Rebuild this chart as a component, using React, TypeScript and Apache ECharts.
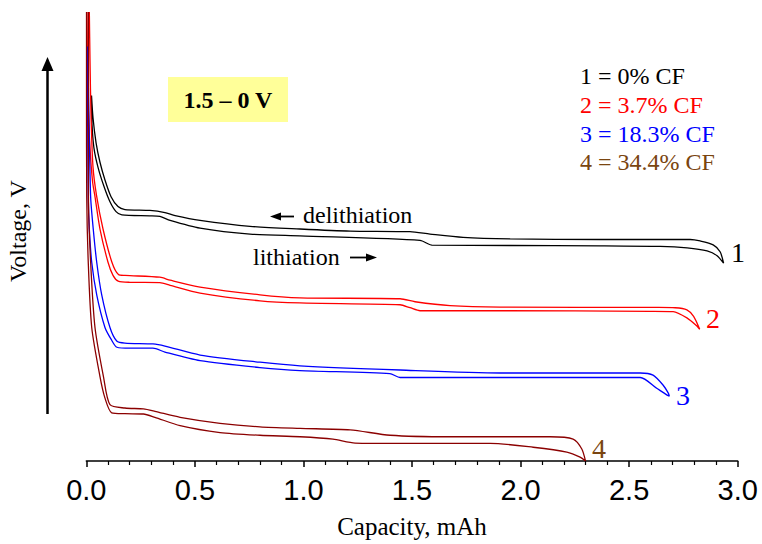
import React, { useEffect, useRef } from "react";
import * as echarts from "echarts";

// Galvanostatic charge/discharge profiles, capacity (mAh) vs. offset voltage (V).
// Each curve: lithiation branch (start -> end), then delithiation branch (end -> start).
const curve1Lith: [number, number][] = [
  [0.024, 1.221], [0.026, 1.129], [0.035, 1.047], [0.054, 0.981], [0.082, 0.916],
  [0.109, 0.866], [0.137, 0.833], [0.164, 0.822], [0.293, 0.819], [0.339, 0.817],
  [0.386, 0.804], [0.524, 0.778], [0.754, 0.758], [0.984, 0.752], [1.537, 0.737],
  [1.592, 0.721], [1.952, 0.72], [2.366, 0.719], [2.643, 0.717], [2.767, 0.712],
  [2.859, 0.702], [2.905, 0.686], [2.935, 0.661],
];
const curve1Delith: [number, number][] = [
  [2.919, 0.699], [2.887, 0.722], [2.827, 0.735], [2.781, 0.74], [2.366, 0.74],
  [1.952, 0.742], [1.735, 0.747], [1.583, 0.758], [1.491, 0.766], [1.215, 0.768],
  [0.984, 0.775], [0.754, 0.784], [0.524, 0.804], [0.409, 0.82], [0.362, 0.83],
  [0.293, 0.837], [0.178, 0.84], [0.146, 0.85], [0.114, 0.883], [0.086, 0.939],
  [0.063, 0.998], [0.045, 1.063], [0.031, 1.146], [0.024, 1.221],
];

const curve2Lith: [number, number][] = [
  [0.003, 1.5], [0.008, 1.211], [0.017, 1.047], [0.029, 0.932], [0.04, 0.883],
  [0.063, 0.775], [0.1, 0.664], [0.123, 0.62], [0.147, 0.601], [0.201, 0.597],
  [0.339, 0.596], [0.386, 0.587], [0.524, 0.561], [0.8, 0.535], [0.984, 0.528],
  [1.445, 0.522], [1.491, 0.512], [1.537, 0.502], [1.906, 0.502], [2.597, 0.5],
  [2.703, 0.499], [2.766, 0.478], [2.812, 0.451], [2.825, 0.44],
];
const curve2Delith: [number, number][] = [
  [2.797, 0.483], [2.766, 0.505], [2.712, 0.512], [2.627, 0.513], [1.906, 0.514],
  [1.675, 0.519], [1.514, 0.532], [1.445, 0.542], [0.984, 0.545], [0.8, 0.555],
  [0.524, 0.581], [0.386, 0.604], [0.339, 0.614], [0.178, 0.62], [0.148, 0.623],
  [0.118, 0.664], [0.077, 0.775], [0.048, 0.883], [0.031, 0.981], [0.022, 1.145],
  [0.017, 1.342], [0.014, 1.5],
];

const curve3Lith: [number, number][] = [
  [0.003, 1.385], [0.006, 1.159], [0.009, 0.883], [0.014, 0.775], [0.025, 0.664],
  [0.048, 0.555], [0.086, 0.446], [0.114, 0.407], [0.141, 0.38], [0.201, 0.377],
  [0.307, 0.377], [0.362, 0.364], [0.524, 0.335], [0.8, 0.312], [0.984, 0.302],
  [1.398, 0.292], [1.445, 0.279], [1.906, 0.279], [2.551, 0.279], [2.627, 0.243],
  [2.673, 0.221], [2.685, 0.217],
];
const curve3Delith: [number, number][] = [
  [2.681, 0.226], [2.656, 0.254], [2.61, 0.287], [2.551, 0.294], [1.906, 0.294],
  [1.445, 0.304], [0.984, 0.318], [0.8, 0.33], [0.524, 0.354], [0.362, 0.384],
  [0.307, 0.391], [0.178, 0.394], [0.14, 0.401], [0.109, 0.446], [0.071, 0.555],
  [0.048, 0.664], [0.032, 0.775], [0.02, 0.883], [0.012, 1.159], [0.006, 1.385],
];

const curve4Lith: [number, number][] = [
  [0.001, 1.5], [0.001, 1.211], [0.002, 0.883], [0.009, 0.664], [0.025, 0.446],
  [0.063, 0.282], [0.086, 0.21], [0.117, 0.161], [0.178, 0.158], [0.263, 0.157],
  [0.316, 0.146], [0.432, 0.118], [0.616, 0.095], [0.8, 0.086], [0.984, 0.081],
  [1.136, 0.073], [1.238, 0.06], [1.445, 0.059], [1.86, 0.059], [2.058, 0.046],
  [2.213, 0.03], [2.274, 0.013], [2.299, 0.0],
];
const curve4Delith: [number, number][] = [
  [2.282, 0.04], [2.242, 0.073], [2.136, 0.081], [1.675, 0.081],
  [1.399, 0.086], [1.215, 0.104], [0.984, 0.109], [0.8, 0.114], [0.616, 0.126],
  [0.432, 0.146], [0.316, 0.166], [0.263, 0.174], [0.178, 0.177], [0.109, 0.188],
  [0.079, 0.282], [0.04, 0.446], [0.02, 0.664], [0.01, 0.883], [0.01, 1.211],
  [0.01, 1.5],
];

const curveNames = ["1", "2", "3", "4"];
const curveColors = ["#000000", "#ff0000", "#0000ff", "#8b0000"];
const labelColors = ["#000000", "#ff0000", "#0000ff", "#7a4510"];
const legendTexts = ["1 = 0% CF", "2 = 3.7% CF", "3 = 18.3% CF", "4 = 34.4% CF"];
const curves = [
  curve1Lith.concat(curve1Delith),
  curve2Lith.concat(curve2Delith),
  curve3Lith.concat(curve3Delith),
  curve4Lith.concat(curve4Delith),
];

const SERIF = "'Liberation Serif', 'Times New Roman', serif";
const SANS = "'Liberation Sans', Arial, sans-serif";

export default function App() {
  const ref = useRef<HTMLDivElement>(null);

  useEffect(() => {
    if (!ref.current) return;
    const chart = echarts.init(ref.current, undefined, { renderer: "svg" });

    const labelPos = [
      [738, 252],
      [713, 318],
      [683, 395],
      [599, 448],
    ];

    const graphic: any[] = [
      // vertical voltage arrow
      { type: "line", shape: { x1: 47.5, y1: 414, x2: 47.5, y2: 68 }, style: { stroke: "#000", lineWidth: 2.5 } },
      { type: "polygon", shape: { points: [[47.5, 57], [41.5, 71], [53.5, 71]] }, style: { fill: "#000" } },
      {
        type: "text", x: 18, y: 231, rotation: Math.PI / 2,
        style: { text: "Voltage, V", font: `24px ${SERIF}`, fill: "#000", align: "center", verticalAlign: "middle" },
      },
      // voltage window badge
      { type: "rect", shape: { x: 168, y: 77, width: 120, height: 45 }, style: { fill: "#ffff99" } },
      {
        type: "text", x: 228, y: 100,
        style: { text: "1.5 – 0 V", font: `bold 24px ${SERIF}`, fill: "#000", align: "center", verticalAlign: "middle" },
      },
      // delithiation / lithiation annotations
      { type: "line", shape: { x1: 280, y1: 216.5, x2: 294, y2: 216.5 }, style: { stroke: "#000", lineWidth: 1.8 } },
      { type: "polygon", shape: { points: [[270, 216.5], [281, 212.5], [281, 220.5]] }, style: { fill: "#000" } },
      {
        type: "text", x: 303, y: 215,
        style: { text: "delithiation", font: `24px ${SERIF}`, fill: "#000", align: "left", verticalAlign: "middle" },
      },
      {
        type: "text", x: 253, y: 257,
        style: { text: "lithiation", font: `24px ${SERIF}`, fill: "#000", align: "left", verticalAlign: "middle" },
      },
      { type: "line", shape: { x1: 350, y1: 257.5, x2: 367, y2: 257.5 }, style: { stroke: "#000", lineWidth: 1.8 } },
      { type: "polygon", shape: { points: [[377, 257.5], [366, 253.5], [366, 261.5]] }, style: { fill: "#000" } },
    ];

    legendTexts.forEach((t, i) => {
      graphic.push({
        type: "text", x: 580, y: 76 + i * 28.8,
        style: { text: t, font: `24px ${SERIF}`, fill: labelColors[i], align: "left", verticalAlign: "middle" },
      });
    });
    curveNames.forEach((n, i) => {
      graphic.push({
        type: "text", x: labelPos[i][0], y: labelPos[i][1],
        style: { text: n, font: `28px ${SERIF}`, fill: labelColors[i], align: "center", verticalAlign: "middle" },
      });
    });

    chart.setOption({
      animation: false,
      backgroundColor: "#ffffff",
      grid: { left: 86.3, right: 24.3, top: 12, bottom: 75, containLabel: false },
      xAxis: {
        type: "value",
        min: 0,
        max: 3,
        interval: 0.5,
        name: "Capacity, mAh",
        nameLocation: "middle",
        nameGap: 53,
        nameTextStyle: { fontFamily: SERIF, fontSize: 25, color: "#000" },
        axisLine: { show: true, lineStyle: { color: "#000", width: 1.5 } },
        axisTick: { show: true, inside: false, length: 6, lineStyle: { color: "#000", width: 1.5 } },
        minorTick: { show: true, splitNumber: 5, length: 4, lineStyle: { color: "#000", width: 1.2 } },
        splitLine: { show: false },
        axisLabel: {
          fontFamily: SANS,
          fontSize: 29,
          color: "#000",
          margin: 14,
          formatter: (v: number) => v.toFixed(1),
        },
      },
      yAxis: {
        type: "value",
        min: 0,
        max: 1.5,
        show: false,
        splitLine: { show: false },
      },
      series: curves.map((data, i) => ({
        type: "line",
        name: curveNames[i],
        data,
        showSymbol: false,
        symbol: "none",
        smooth: 0.25,
        clip: true,
        lineStyle: { color: curveColors[i], width: 1.3 },
      })),
      graphic,
    });

    return () => chart.dispose();
  }, []);

  return <div ref={ref} style={{ width: 762, height: 544, position: "absolute", left: 0, top: 0 }} />;
}
